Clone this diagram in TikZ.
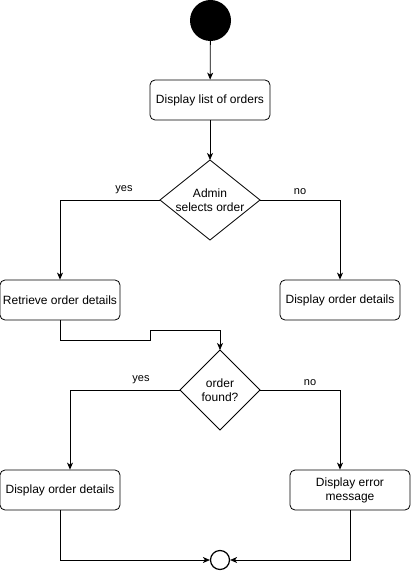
\documentclass[tikz,border=0pt]{standalone}
\usepackage{fontspec}
\setmainfont{Liberation Sans}
\usetikzlibrary{arrows.meta}
\begin{document}
\begin{tikzpicture}[x=1pt,y=-1pt,
  every node/.style={font=\fontsize{12}{14}\selectfont},
  act/.style={draw, rounded corners=5pt, minimum width=120pt, minimum height=40pt, inner sep=0pt, align=center, line width=0.8pt},
  txt/.style={align=center, inner sep=0pt},
  flow/.style={line width=0.8pt, -{Stealth[length=7pt,width=6pt,inset=2pt]}},
  lbl/.style={font=\fontsize{11}{13}\selectfont}]
\useasboundingbox (0,0) rectangle (412,572);
% start and end
\node[circle, fill=black, minimum size=41pt, inner sep=0pt] (start) at (210.5,20.5) {};
\node[circle, draw, line width=1.2pt, minimum size=19pt, inner sep=0pt] (end) at (220,560) {};
% activities
\node[act] (list) at (210,100) {Display list of orders};
\node[act] (retrieve) at (60,300) {Retrieve order details};
\node[act] (show1) at (340,300) {Display order details};
\node[act] (show2) at (60,490) {Display order details};
\node[act] (err) at (350,490) {Display error\\message};
% decisions
\draw[line width=0.8pt] (210,160) coordinate (d1t) -- (260,200) coordinate (d1r) -- (210,240) -- (160,200) coordinate (d1l) -- cycle;
\node[txt] (sel) at (210,200) {Admin\\selects order};
\draw[line width=0.8pt] (220,350) coordinate (d2t) -- (260,390) coordinate (d2r) -- (220,430) -- (180,390) coordinate (d2l) -- cycle;
\node[txt] (found) at (220,390) {order\\found?};
% connectors
\draw[flow] (start) -- (list);
\draw[flow] (list) -- (d1t);
\draw[flow] (d1l) -| (retrieve.north);
\draw[flow] (d1r) -| (show1.north);
\draw[flow] (retrieve.south) -- (60,340) -- (150,340) -- (150,330) -- (220,330) -- (d2t);
\draw[flow] (d2l) -| ([xshift=10pt]show2.north);
\draw[flow] (d2r) -| ([xshift=-10pt]err.north);
\draw[flow] (show2.south) |- (end.west);
\draw[flow] (err.south) |- (end.east);
% branch labels
\node[lbl] (y1) at (124,190) {yes};
\node[lbl] (n1) at (300,192) {no};
\node[lbl] (y2) at (141,380) {yes};
\node[lbl] (n2) at (310,383) {no};
\end{tikzpicture}
\end{document}
